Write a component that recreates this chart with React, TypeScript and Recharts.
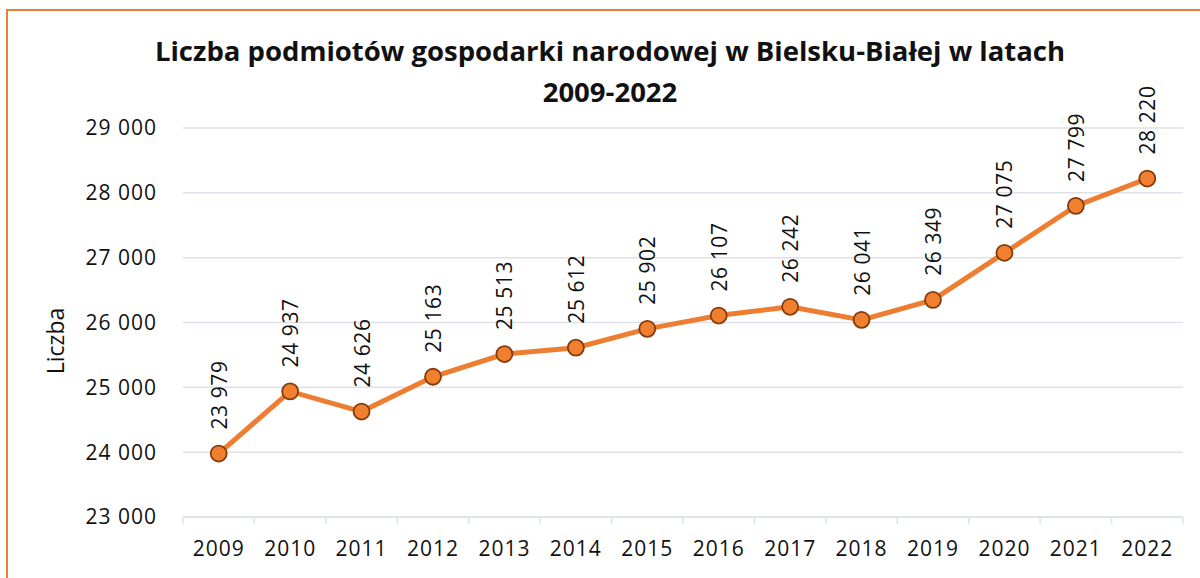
import { CartesianGrid, LabelList, Line, LineChart, XAxis, YAxis } from 'recharts';

const years = ['2009', '2010', '2011', '2012', '2013', '2014', '2015', '2016', '2017', '2018', '2019', '2020', '2021', '2022'];
const counts = [23979, 24937, 24626, 25163, 25513, 25612, 25902, 26107, 26242, 26041, 26349, 27075, 27799, 28220];
const yTicks = [23000, 24000, 25000, 26000, 27000, 28000, 29000];
const xBoundaries = Array.from({ length: years.length + 1 }, (_, i) => i);

const data = years.map((year, i) => ({ year, pos: i + 0.5, value: counts[i] }));

const W = 1200;
const H = 578;
const MARGIN = { top: 128, right: 17, bottom: 16, left: 63 };
const Y_WIDTH = 120;
const PLOT_W = W - MARGIN.left - MARGIN.right - Y_WIDTH;
const BAND = PLOT_W / years.length;

const FONT = '"Open Sans", sans-serif';
const ORANGE = '#ED7D31';
const GRID = '#DDE2E8';

const fmt = (v: number) => v.toLocaleString('en-US').replace(/,/g, ' ');

function XTick(props: any) {
  const { x, y, payload } = props;
  const i = payload.value as number;
  if (i >= years.length) return null;
  return (
    <text
      x={x + BAND / 2}
      y={y + 30}
      textAnchor="middle"
      fontSize={21}
      letterSpacing={1}
      fontFamily={FONT}
      fill="#111"
    >
      {years[i]}
    </text>
  );
}

function ValueLabel(props: any) {
  const { x, y, value } = props;
  return (
    <text
      x={x}
      y={y - 24}
      transform={`rotate(-90 ${x} ${y - 24})`}
      textAnchor="start"
      dominantBaseline="central"
      fontSize={21}
      letterSpacing={0.6}
      fontFamily={FONT}
      fill="#111"
    >
      {fmt(value)}
    </text>
  );
}

export default function App() {
  return (
    <div style={{ position: 'absolute', left: 0, top: 0, width: W, height: H, background: '#fff', overflow: 'hidden' }}>
      <div
        style={{
          position: 'absolute',
          left: 6,
          top: 9,
          width: 1400,
          height: 800,
          border: `2px solid ${ORANGE}`,
        }}
      />
      <div
        style={{
          position: 'absolute',
          left: 0,
          width: 1220,
          top: 30,
          textAlign: 'center',
          fontFamily: FONT,
          fontWeight: 700,
          fontSize: 27.5,
          lineHeight: '41px',
          color: '#111',
        }}
      >
        Liczba podmiotów gospodarki narodowej w Bielsku-Białej w latach
        <br />
        2009-2022
      </div>
      <div
        style={{
          position: 'absolute',
          left: 55,
          top: 341,
          transform: 'translate(-50%, -50%) rotate(-90deg)',
          fontFamily: FONT,
          fontSize: 23,
          color: '#111',
        }}
      >
        Liczba
      </div>
      <div style={{ position: 'absolute', left: 0, top: 0 }}>
        <LineChart width={W} height={H} data={data} margin={MARGIN}>
          <CartesianGrid vertical={false} stroke={GRID} strokeWidth={1.5} />
          <XAxis
            dataKey="pos"
            type="number"
            domain={[0, years.length]}
            ticks={xBoundaries}
            interval={0}
            height={45}
            axisLine={{ stroke: GRID, strokeWidth: 1.5 }}
            tickLine={{ stroke: GRID, strokeWidth: 1.5 }}
            tickSize={7}
            tick={<XTick />}
          />
          <YAxis
            width={Y_WIDTH}
            domain={[23000, 29000]}
            ticks={yTicks}
            interval={0}
            axisLine={false}
            tickLine={false}
            tickMargin={20}
            tickFormatter={fmt}
            tick={{ fontSize: 21, fontFamily: FONT, fill: '#111', letterSpacing: 1 }}
          />
          <Line
            dataKey="value"
            stroke={ORANGE}
            strokeWidth={5}
            isAnimationActive={false}
            dot={{ r: 8, fill: '#F0802F', stroke: '#843C0C', strokeWidth: 1.8 }}
          >
            <LabelList dataKey="value" content={<ValueLabel />} />
          </Line>
        </LineChart>
      </div>
    </div>
  );
}
